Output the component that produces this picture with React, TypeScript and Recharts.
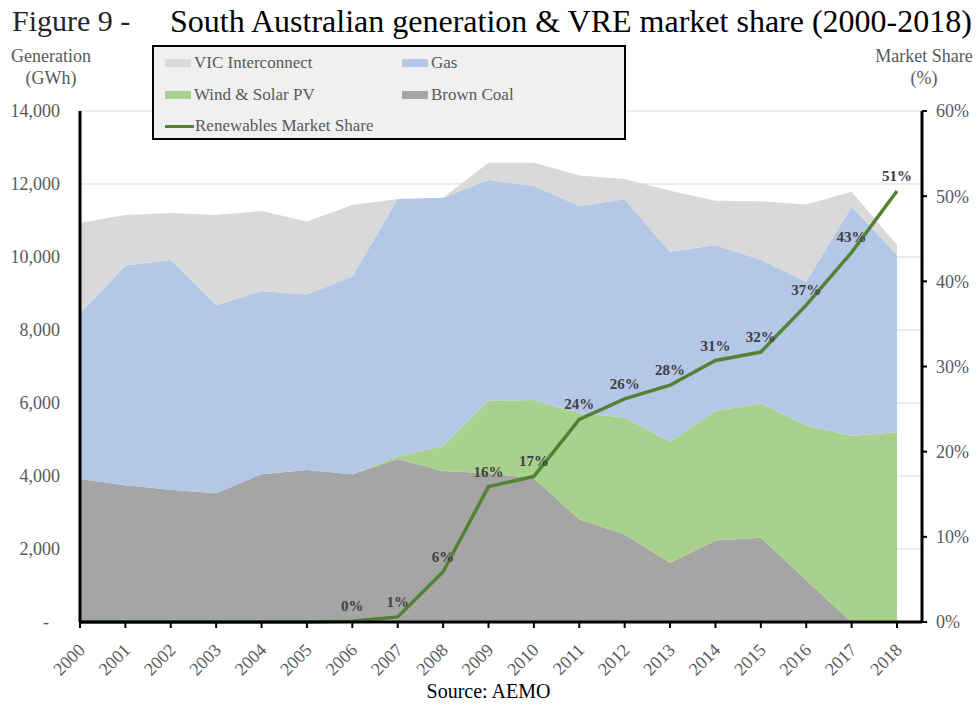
import {
  ComposedChart,
  Area,
  Line,
  XAxis,
  YAxis,
  CartesianGrid,
} from 'recharts';

const years = [
  '2000', '2001', '2002', '2003', '2004', '2005', '2006', '2007', '2008', '2009',
  '2010', '2011', '2012', '2013', '2014', '2015', '2016', '2017', '2018',
];

// GWh
const brownCoal = [3920, 3750, 3620, 3525, 4050, 4165, 4050, 4465, 4140, 4075, 3935, 2815, 2400, 1625, 2230, 2310, 1150, 0, 0];
const windSolar = [0, 0, 0, 0, 0, 0, 0, 80, 680, 1990, 2145, 2905, 3200, 3315, 3560, 3680, 4240, 5105, 5200];
const gas = [4535, 6020, 6300, 5150, 5020, 4805, 5420, 7045, 6805, 6045, 5865, 5680, 5980, 5205, 4540, 3930, 3935, 6275, 4855];
const vicInterconnect = [2485, 1380, 1285, 2475, 2190, 2000, 1955, 0, 0, 475, 640, 830, 560, 1670, 1210, 1610, 2115, 410, 275];

// % market share
const marketShare = [0, 0, 0, 0, 0, 0, 0.1, 0.6, 5.9, 15.9, 17.1, 23.8, 26.2, 27.8, 30.7, 31.7, 37.2, 43.4, 50.6];

const leftTicks = [0, 2000, 4000, 6000, 8000, 10000, 12000, 14000];
const rightTicks = [0, 10, 20, 30, 40, 50, 60];

const FONT = '"Liberation Serif", "Times New Roman", serif';
const GREY_TEXT = '#595959';
const LINE_GREEN = '#548235';

const chartData = years.map((year, i) => ({
  year,
  brownCoal: brownCoal[i],
  windSolar: windSolar[i],
  gas: gas[i],
  vic: vicInterconnect[i],
  share: marketShare[i],
}));

const legendItems = [
  { name: 'VIC Interconnect', color: '#d9d9d9', kind: 'box' },
  { name: 'Gas', color: '#b4c7e7', kind: 'box' },
  { name: 'Wind & Solar PV', color: '#a9d18e', kind: 'box' },
  { name: 'Brown Coal', color: '#a5a5a5', kind: 'box' },
  { name: 'Renewables Market Share', color: LINE_GREEN, kind: 'line' },
];

function LeftTick(props: any) {
  const { x, y, payload } = props;
  const isZero = payload.value === 0;
  return (
    <text
      x={isZero ? x - 11 : x}
      y={y}
      dy="0.35em"
      textAnchor="end"
      fill={GREY_TEXT}
      fontFamily={FONT}
      fontSize={18}
    >
      {isZero ? '-' : payload.value.toLocaleString('en-US')}
    </text>
  );
}

function ShareLabel(props: any) {
  const { x, y, value, index } = props;
  // Excel only labelled the points from 2006 onwards
  if (index < 6) return null;
  return (
    <text
      x={x}
      y={y - 10}
      textAnchor="middle"
      fill="#404040"
      fontFamily={FONT}
      fontSize={15}
      fontWeight="bold"
    >
      {`${Math.round(value)}%`}
    </text>
  );
}

export default function App() {
  return (
    <div
      style={{
        position: 'absolute',
        left: 0,
        top: 0,
        width: 977,
        height: 706,
        background: '#fff',
        fontFamily: FONT,
      }}
    >
      <div style={{ position: 'absolute', left: 12, top: 4, fontSize: 30, color: '#262626' }}>
        Figure 9 -
      </div>
      <div style={{ position: 'absolute', left: 170, top: 3, fontSize: 32, color: '#000' }}>
        South Australian generation &amp; VRE market share (2000-2018)
      </div>
      <div
        style={{
          position: 'absolute',
          left: 4,
          top: 45,
          width: 94,
          textAlign: 'center',
          fontSize: 18,
          lineHeight: '22px',
          color: GREY_TEXT,
        }}
      >
        Generation
        <br />
        (GWh)
      </div>
      <div
        style={{
          position: 'absolute',
          left: 868,
          top: 45,
          width: 112,
          textAlign: 'center',
          fontSize: 18,
          lineHeight: '22px',
          color: GREY_TEXT,
        }}
      >
        Market Share
        <br />
        (%)
      </div>

      <ComposedChart
        width={977}
        height={706}
        data={chartData}
        margin={{ top: 111, right: 5, bottom: 24, left: 10 }}
      >
        <CartesianGrid horizontal vertical={false} stroke="#d9d9d9" yAxisId="gen" />
        <XAxis
          dataKey="year"
          scale="point"
          padding={{ left: 0, right: 25 }}
          height={60}
          interval={0}
          angle={-45}
          textAnchor="end"
          axisLine={{ stroke: '#000', strokeWidth: 3 }}
          tickLine={{ stroke: '#000', strokeWidth: 2 }}
          tickSize={6}
          tickMargin={14}
          dx={-3}
          tick={{ fill: GREY_TEXT, fontFamily: FONT, fontSize: 18 }}
        />
        <YAxis
          yAxisId="gen"
          orientation="left"
          width={70}
          domain={[0, 14000]}
          ticks={leftTicks}
          interval={0}
          axisLine={{ stroke: '#000', strokeWidth: 3 }}
          tickLine={false}
          tickSize={6}
          tickMargin={14}
          tick={<LeftTick />}
        />
        <YAxis
          yAxisId="share"
          orientation="right"
          width={50}
          domain={[0, 60]}
          ticks={rightTicks}
          interval={0}
          axisLine={{ stroke: '#000', strokeWidth: 3 }}
          tickLine={{ stroke: '#000', strokeWidth: 2 }}
          tickSize={5}
          tickMargin={9}
          tickFormatter={(v: number) => `${v}%`}
          tick={{ fill: GREY_TEXT, fontFamily: FONT, fontSize: 18 }}
        />
        <Area
          yAxisId="gen"
          type="linear"
          dataKey="brownCoal"
          stackId="gen"
          fill="#a5a5a5"
          fillOpacity={1}
          stroke="none"
          isAnimationActive={false}
        />
        <Area
          yAxisId="gen"
          type="linear"
          dataKey="windSolar"
          stackId="gen"
          fill="#a9d18e"
          fillOpacity={1}
          stroke="none"
          isAnimationActive={false}
        />
        <Area
          yAxisId="gen"
          type="linear"
          dataKey="gas"
          stackId="gen"
          fill="#b4c7e7"
          fillOpacity={1}
          stroke="none"
          isAnimationActive={false}
        />
        <Area
          yAxisId="gen"
          type="linear"
          dataKey="vic"
          stackId="gen"
          fill="#d9d9d9"
          fillOpacity={1}
          stroke="none"
          isAnimationActive={false}
        />
        <Line
          yAxisId="share"
          type="linear"
          dataKey="share"
          stroke={LINE_GREEN}
          strokeWidth={3.5}
          dot={false}
          activeDot={false}
          label={<ShareLabel />}
          isAnimationActive={false}
        />
      </ComposedChart>

      {/* legend box sits over the top of the plot, as in the original */}
      <div
        style={{
          position: 'absolute',
          left: 152,
          top: 45,
          width: 470,
          height: 91,
          background: '#f0f0f0',
          border: '2px solid #000',
          fontSize: 17,
          color: GREY_TEXT,
        }}
      >
        {legendItems.map((item, i) => {
          const col = i % 2;
          const row = Math.floor(i / 2);
          return (
            <div
              key={item.name}
              style={{
                position: 'absolute',
                left: 11 + col * 237,
                top: 5 + row * 31.5,
                height: 22,
                display: 'flex',
                alignItems: 'center',
                whiteSpace: 'nowrap',
              }}
            >
              {item.kind === 'box' ? (
                <span style={{ display: 'inline-block', width: 26, height: 8, background: item.color, marginRight: 3 }} />
              ) : (
                <span style={{ display: 'inline-block', width: 29, height: 3, background: item.color, marginRight: 1 }} />
              )}
              {item.name}
            </div>
          );
        })}
      </div>

      <div
        style={{
          position: 'absolute',
          left: 0,
          width: 977,
          top: 680,
          textAlign: 'center',
          fontSize: 20,
          color: '#000',
        }}
      >
        Source: AEMO
      </div>
    </div>
  );
}
